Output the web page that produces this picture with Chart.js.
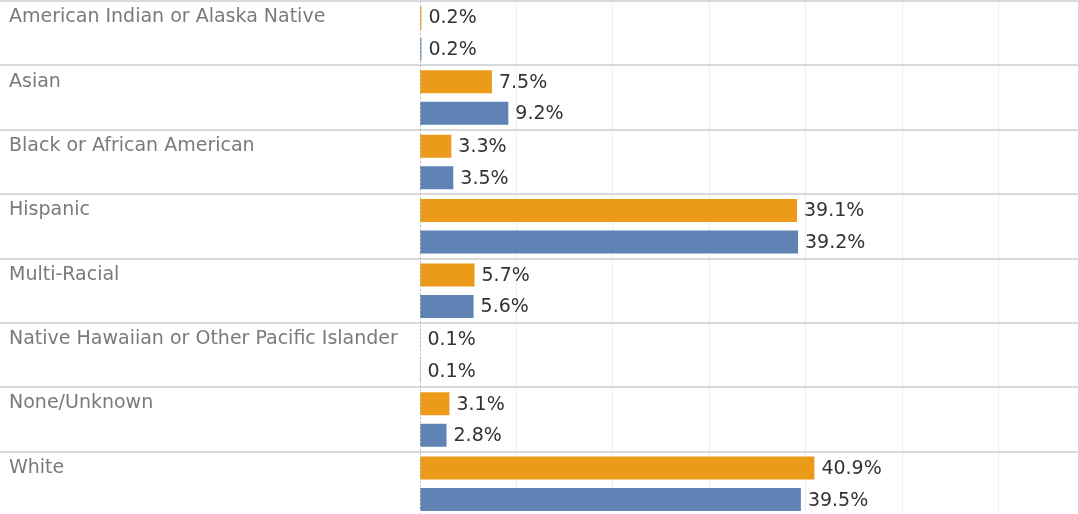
<!DOCTYPE html>
<html>
<head>
<meta charset="utf-8">
<script src="https://cdn.jsdelivr.net/npm/chart.js@4"></script>
<style>
  html, body { margin: 0; padding: 0; background: #fff; overflow: hidden; }
  #wrap { position: relative; width: 1078px; height: 516px; }
</style>
</head>
<body>
<div id="wrap"><canvas id="chart"></canvas></div>
<script>
// categories and the two series
const categories = [
  'American Indian or Alaska Native',
  'Asian',
  'Black or African American',
  'Hispanic',
  'Multi-Racial',
  'Native Hawaiian or Other Pacific Islander',
  'None/Unknown',
  'White'
];
const orangeValues = [0.2, 7.5, 3.3, 39.1, 5.7, 0.1, 3.1, 40.9];
const blueValues = [0.2, 9.2, 3.5, 39.2, 5.6, 0.1, 2.8, 39.5];

const FONT = "'DejaVu Sans', sans-serif";

// draws "x.x%" right after the end of every bar
const valueLabels = {
  id: 'valueLabels',
  afterDatasetsDraw(chart) {
    const ctx = chart.ctx;
    ctx.save();
    ctx.font = '19px ' + FONT;
    ctx.fillStyle = '#333333';
    ctx.textAlign = 'left';
    ctx.textBaseline = 'middle';
    chart.data.datasets.forEach((ds, i) => {
      chart.getDatasetMeta(i).data.forEach((bar, j) => {
        ctx.fillText(ds.data[j].toFixed(1) + '%', bar.x + 7, bar.y + 1);
      });
    });
    ctx.restore();
  }
};

// dotted line at zero
const zeroLine = {
  id: 'zeroLine',
  afterDatasetsDraw(chart) {
    const { ctx, chartArea } = chart;
    const x = Math.round(chart.scales.x.getPixelForValue(0)) + 0.5;
    ctx.save();
    ctx.strokeStyle = '#bdbdbd';
    ctx.lineWidth = 1;
    ctx.setLineDash([2, 2]);
    ctx.beginPath();
    ctx.moveTo(x, chartArea.top);
    ctx.lineTo(x, chartArea.bottom);
    ctx.stroke();
    ctx.restore();
  }
};

new Chart(document.getElementById('chart'), {
  type: 'bar',
  data: {
    labels: categories,
    datasets: [
      {
        label: 'Orange',
        data: orangeValues,
        backgroundColor: '#EC9A1A',
        categoryPercentage: 0.98,
        barPercentage: 0.73
      },
      {
        label: 'Blue',
        data: blueValues,
        backgroundColor: '#5F83B4',
        categoryPercentage: 0.98,
        barPercentage: 0.73
      }
    ]
  },
  options: {
    indexAxis: 'y',
    responsive: true,
    maintainAspectRatio: false,
    animation: false,
    layout: { padding: { top: 1, left: 9, right: 0, bottom: 0 } },
    plugins: {
      legend: { display: false },
      tooltip: { enabled: false }
    },
    scales: {
      x: {
        min: 0,
        max: 68.2,
        ticks: { display: false, stepSize: 10 },
        grid: { color: ctx => ctx.tick && ctx.tick.value === 0 ? 'rgba(0,0,0,0)' : '#eeeeee', lineWidth: 1, drawTicks: false },
        border: { display: false },
        afterFit: scale => { scale.height = 0; }
      },
      y: {
        ticks: {
          crossAlign: 'far',
          labelOffset: -16,
          color: '#7a7a7a',
          font: { family: FONT, size: 19 }
        },
        grid: { color: '#d9d9d9', lineWidth: 2, offset: true, drawTicks: true, tickLength: 440 },
        border: { display: false },
        afterFit: scale => {
          scale.width = 410.5;
          scale.paddingTop = 0;
          scale.paddingBottom = 0;
        }
      }
    }
  },
  plugins: [valueLabels, zeroLine]
});
</script>
</body>
</html>
